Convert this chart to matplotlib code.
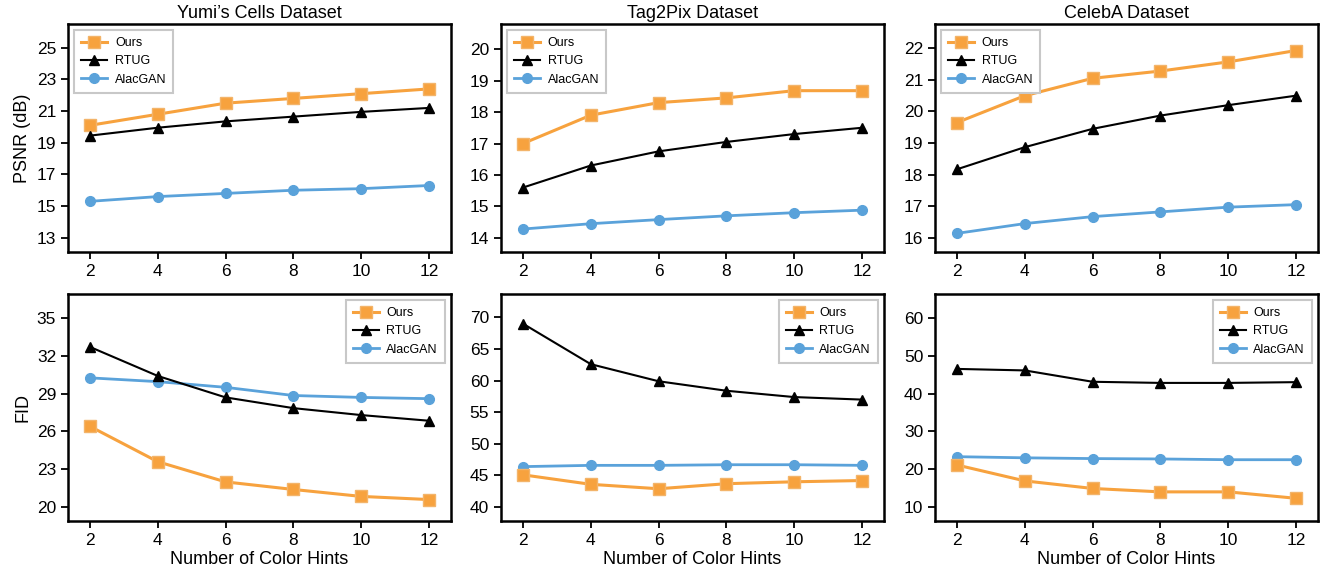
import matplotlib
matplotlib.use("Agg")
import matplotlib.pyplot as plt

plt.rcParams['font.family'] = ['Liberation Sans', 'DejaVu Sans']

hints = [2, 4, 6, 8, 10, 12]
titles = ["Yumi\u2019s Cells Dataset", "Tag2Pix Dataset", "CelebA Dataset"]

# PSNR (dB)
psnr_ours = [
    [20.1, 20.8, 21.5, 21.8, 22.1, 22.4],
    [17.0, 17.9, 18.3, 18.45, 18.68, 18.68],
    [19.65, 20.5, 21.05, 21.28, 21.57, 21.93],
]
psnr_rtug = [
    [19.45, 19.95, 20.35, 20.65, 20.95, 21.2],
    [15.6, 16.3, 16.75, 17.05, 17.3, 17.5],
    [18.17, 18.87, 19.45, 19.87, 20.2, 20.5],
]
psnr_alac = [
    [15.3, 15.6, 15.8, 16.0, 16.1, 16.3],
    [14.28, 14.45, 14.58, 14.7, 14.8, 14.88],
    [16.14, 16.45, 16.67, 16.82, 16.97, 17.05],
]

# FID
fid_ours = [
    [26.4, 23.6, 22.0, 21.4, 20.85, 20.6],
    [45.1, 43.6, 42.9, 43.7, 44.0, 44.2],
    [21.1, 16.9, 14.9, 14.0, 14.0, 12.3],
]
fid_rtug = [
    [32.7, 30.4, 28.7, 27.85, 27.3, 26.85],
    [69.0, 62.6, 59.9, 58.4, 57.4, 57.0],
    [46.5, 46.1, 43.1, 42.8, 42.8, 43.0],
]
fid_alac = [
    [30.25, 29.95, 29.5, 28.85, 28.7, 28.6],
    [46.4, 46.6, 46.6, 46.7, 46.7, 46.6],
    [23.3, 23.0, 22.8, 22.7, 22.5, 22.5],
]

psnr_ticks = [[13, 15, 17, 19, 21, 23, 25], [14, 15, 16, 17, 18, 19, 20], [16, 17, 18, 19, 20, 21, 22]]
psnr_lims = [(12.1, 26.5), (13.55, 20.8), (15.55, 22.77)]
fid_ticks = [[20, 23, 26, 29, 32, 35], [40, 45, 50, 55, 60, 65, 70], [10, 20, 30, 40, 50, 60]]
fid_lims = [(18.9, 36.9), (37.8, 73.7), (6.3, 66.3)]

ORANGE = '#F7A23E'
ORANGE_EDGE = '#F3B46A'
BLUE = '#5AA2DA'

fig = plt.figure(figsize=(13.24, 5.73), dpi=100)
W, H = 1324, 573
lefts = [68, 501, 935]
width = 383
rows = [(24, 252), (294, 521)]

def make_ax(col, row):
    x0 = lefts[col]
    y0, y1 = rows[row]
    return fig.add_axes([x0 / W, 1 - y1 / H, width / W, (y1 - y0) / H])

def draw(ax, ours, rtug, alac, ticks, lims, loc):
    ax.plot(hints, ours, color=ORANGE, lw=2.2, marker='s', ms=9,
            mfc=ORANGE, mec=ORANGE_EDGE, mew=1.0, label='Ours', zorder=3)
    ax.plot(hints, rtug, color='black', lw=1.5, marker='^', ms=7.5,
            label='RTUG', zorder=4)
    ax.plot(hints, alac, color=BLUE, lw=2.0, marker='o', ms=7,
            mfc=BLUE, mec=BLUE, label='AlacGAN', zorder=2)
    ax.set_xticks(hints)
    ax.set_yticks(ticks)
    ax.set_ylim(*lims)
    ax.set_xlim(1.35, 12.65)
    ax.tick_params(direction='out', length=5, width=1.3, labelsize=12.5)
    for s in ax.spines.values():
        s.set_linewidth(1.8)
    leg = ax.legend(loc=loc, fontsize=9, frameon=True, fancybox=False,
                    edgecolor='#c8c8c8', framealpha=1, handlelength=2.1,
                    borderpad=0.55, labelspacing=0.5, handletextpad=0.6)
    leg.get_frame().set_linewidth(1.5)

for c in range(3):
    ax = make_ax(c, 0)
    draw(ax, psnr_ours[c], psnr_rtug[c], psnr_alac[c], psnr_ticks[c], psnr_lims[c], 'upper left')
    ax.set_title(titles[c], fontsize=13, pad=4)
    if c == 0:
        ax.set_ylabel('PSNR (dB)', fontsize=13)

for c in range(3):
    ax = make_ax(c, 1)
    draw(ax, fid_ours[c], fid_rtug[c], fid_alac[c], fid_ticks[c], fid_lims[c], 'upper right')
    ax.set_xlabel('Number of Color Hints', fontsize=13, labelpad=2)
    if c == 0:
        ax.set_ylabel('FID', fontsize=13)

fig.savefig('out.png', dpi=100)
